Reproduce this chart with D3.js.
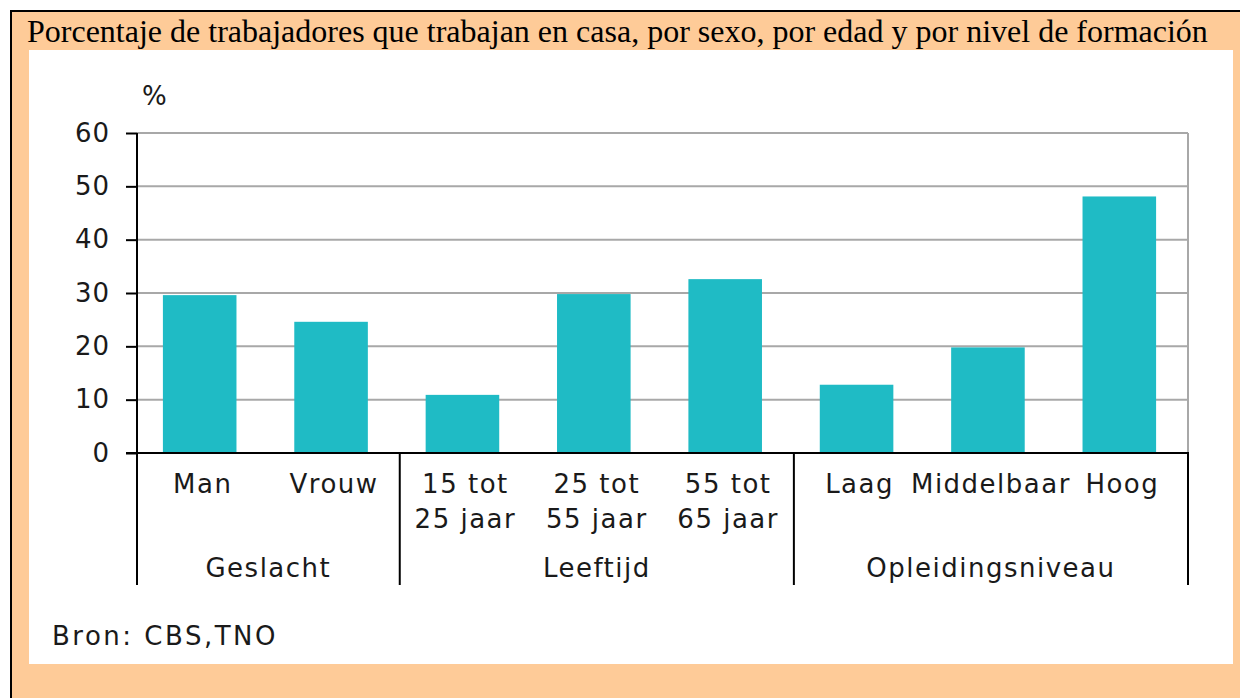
<!DOCTYPE html>
<html>
<head>
<meta charset="utf-8">
<script src="https://cdn.jsdelivr.net/npm/d3@7"></script>
<style>
  html, body { margin: 0; padding: 0; background: #fff; overflow: hidden; }
  svg { display: block; }
</style>
</head>
<body>
<svg id="chart" width="1240" height="698"></svg>
<script>
// data
var categories = ["Man", "Vrouw", "15 tot 25 jaar", "25 tot 55 jaar", "55 tot 65 jaar", "Laag", "Middelbaar", "Hoog"];
var labelLines = [["Man"], ["Vrouw"], ["15 tot", "25 jaar"], ["25 tot", "55 jaar"], ["55 tot", "65 jaar"], ["Laag"], ["Middelbaar"], ["Hoog"]];
var values = [29.6, 24.6, 10.9, 29.8, 32.6, 12.8, 19.8, 48.1];
var groups = ["Geslacht", "Leeftijd", "Opleidingsniveau"];
var groupSizes = [2, 3, 3];
var yTicks = [0, 10, 20, 30, 40, 50, 60];

var svg = d3.select("#chart");

// peach frame + white panel
svg.append("rect")
    .attr("x", 11).attr("y", 11)
    .attr("width", 1250).attr("height", 700)
    .attr("fill", "#fecb98")
    .attr("stroke", "#000").attr("stroke-width", 2);

svg.append("text")
    .attr("x", 27).attr("y", 42)
    .attr("font-family", "'Liberation Serif', 'Times New Roman', serif")
    .attr("font-size", 32)
    .attr("fill", "#000")
    .text("Porcentaje de trabajadores que trabajan en casa, por sexo, por edad y por nivel de formación");

svg.append("rect")
    .attr("x", 29).attr("y", 50)
    .attr("width", 1204).attr("height", 614)
    .attr("fill", "#fff");

var plotLeft = 137, plotRight = 1188, plotTop = 133, plotBottom = 453, base = 585;
var font = "'DejaVu Sans', Verdana, sans-serif";

var x = d3.scaleBand()
    .domain(categories)
    .range([plotLeft, plotRight])
    .paddingInner(0.44)
    .paddingOuter(0.22);

var y = d3.scaleLinear()
    .domain([0, 60])
    .range([plotBottom, plotTop]);

var step = x.step();

// gridlines
svg.append("g").selectAll("line")
    .data(yTicks.slice(1))
    .enter().append("line")
      .attr("x1", plotLeft).attr("x2", plotRight)
      .attr("y1", function(d) { return y(d); })
      .attr("y2", function(d) { return y(d); })
      .attr("stroke", "#a8a8a8").attr("stroke-width", 2);

svg.append("line")
    .attr("x1", plotRight).attr("x2", plotRight)
    .attr("y1", plotTop).attr("y2", plotBottom)
    .attr("stroke", "#a8a8a8").attr("stroke-width", 2);

// bars
svg.append("g").selectAll("rect")
    .data(values)
    .enter().append("rect")
      .attr("x", function(d, i) { return x(categories[i]) - 3; })
      .attr("y", function(d) { return y(d); })
      .attr("width", x.bandwidth())
      .attr("height", function(d) { return y(0) - y(d); })
      .attr("fill", "#1fbbc5");

// y axis
var yAxis = svg.append("g")
    .attr("transform", "translate(" + plotLeft + ",0)")
    .call(d3.axisLeft(y).tickValues(yTicks).tickSize(11).tickPadding(16));
yAxis.select(".domain").remove();
yAxis.selectAll(".tick line").attr("stroke", "#000").attr("stroke-width", 2);
yAxis.selectAll(".tick text")
    .attr("font-family", font).attr("font-size", 26)
    .attr("letter-spacing", 1)
    .attr("fill", "#1a1a1a");

svg.append("line")
    .attr("x1", plotLeft).attr("x2", plotLeft)
    .attr("y1", plotTop).attr("y2", base)
    .attr("stroke", "#000").attr("stroke-width", 2);

svg.append("line")
    .attr("x1", plotLeft - 11).attr("x2", plotRight + 1)
    .attr("y1", plotBottom).attr("y2", plotBottom)
    .attr("stroke", "#000").attr("stroke-width", 2);

svg.append("text")
    .attr("x", 142).attr("y", 105)
    .attr("font-family", font).attr("font-size", 26)
    .attr("fill", "#1a1a1a")
    .text("%");

// category labels
var cat = svg.append("g").selectAll("text")
    .data(labelLines)
    .enter().append("text")
      .attr("x", function(d, i) { return x(categories[i]) + x.bandwidth() / 2; })
      .attr("y", 493)
      .attr("text-anchor", "middle")
      .attr("font-family", font).attr("font-size", 26)
      .attr("letter-spacing", 1.5)
      .attr("fill", "#1a1a1a");
cat.selectAll("tspan")
    .data(function(d) { return d; })
    .enter().append("tspan")
      .attr("x", function() { return d3.select(this.parentNode).attr("x"); })
      .attr("dy", function(d, i) { return i === 0 ? 0 : 35; })
      .text(function(d) { return d; });

// group separators and labels
var bounds = [0];
groupSizes.forEach(function(n, i) { bounds.push(bounds[i] + n); });

svg.append("g").selectAll("line")
    .data(bounds.slice(1))
    .enter().append("line")
      .attr("x1", function(d) { return plotLeft + d * step; })
      .attr("x2", function(d) { return plotLeft + d * step; })
      .attr("y1", plotBottom).attr("y2", base)
      .attr("stroke", "#000").attr("stroke-width", 2);

svg.append("g").selectAll("text")
    .data(groups)
    .enter().append("text")
      .attr("x", function(d, i) { return plotLeft + (bounds[i] + bounds[i + 1]) / 2 * step; })
      .attr("y", 577)
      .attr("text-anchor", "middle")
      .attr("font-family", font).attr("font-size", 26)
      .attr("letter-spacing", 1.5)
      .attr("fill", "#1a1a1a")
      .text(function(d) { return d; });

svg.append("text")
    .attr("x", 52).attr("y", 645)
    .attr("font-family", font).attr("font-size", 26)
    .attr("letter-spacing", 2.5)
    .attr("fill", "#1a1a1a")
    .text("Bron: CBS,TNO");
</script>
</body>
</html>
